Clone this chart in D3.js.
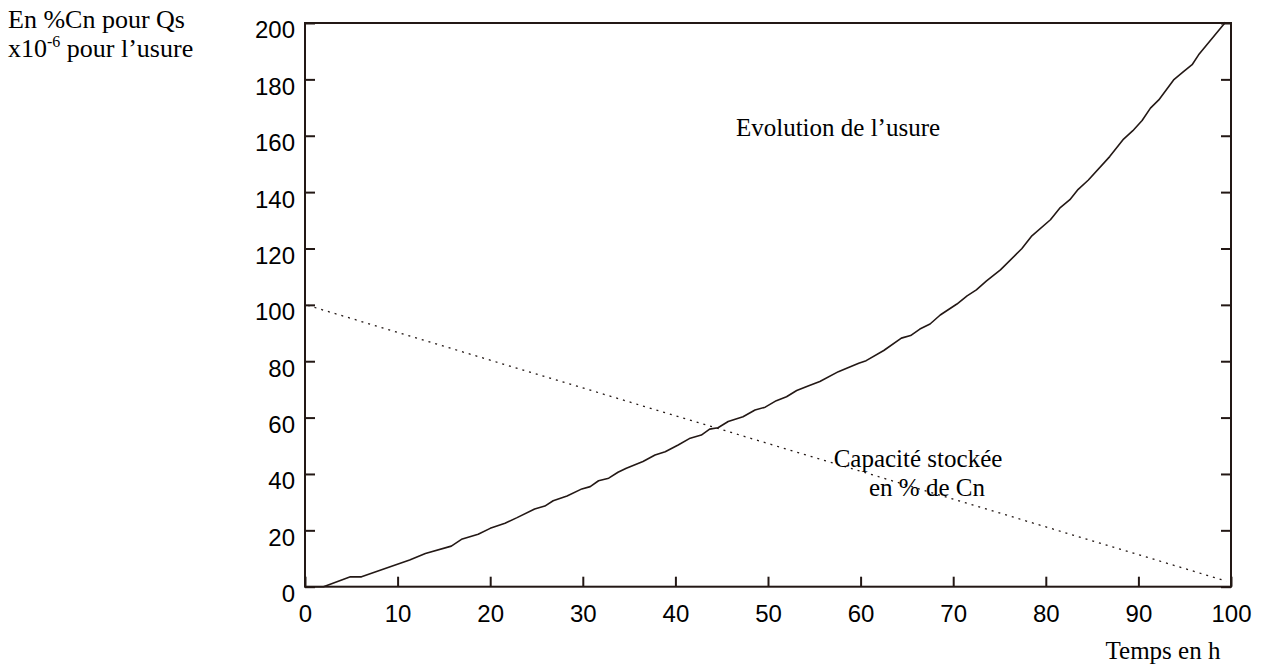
<!DOCTYPE html>
<html><head><meta charset="utf-8">
<script src="https://cdn.jsdelivr.net/npm/d3@7"></script>
<style>
html,body{margin:0;padding:0;background:#fff;}
svg{display:block;}
</style></head>
<body>
<svg id="chart" width="1271" height="666"></svg>
<script>
// ---- Data ----
const usureX = [1,2,4.9,6.1,9.2,11.3,13,15.8,16.9,18.7,20,21.6,22.9,24.8,25.9,26.8,28.3,29.9,30.8,31.7,32.8,33.8,34.7,36.5,37.8,38.9,40.3,41.6,42.8,43.7,44.6,45.7,47.3,48.6,49.7,50.9,52,53.1,54.4,55.6,57.6,58.5,59.8,60.6,62.5,64.4,65.4,66.4,67.5,68.6,70.4,71.5,72.5,73.6,75.1,77.4,78.5,80.5,81.5,82.6,83.5,84.6,86.9,88.4,89.4,90.4,91.3,92.2,93.8,94.9,95.8,96.5,99.4];
const usureY = [0,0,3.5,3.5,7.1,9.5,11.8,14.4,16.8,18.6,20.7,22.5,24.5,27.6,28.6,30.5,32.2,34.7,35.5,37.6,38.5,40.6,42,44.4,46.7,47.9,50.3,52.7,53.8,55.9,56.4,58.6,60.3,62.7,63.7,66,67.4,69.6,71.3,72.8,76.3,77.5,79.3,80.2,83.8,88.2,89.1,91.4,93.2,96.4,100.3,103.2,105.3,108.5,112.4,119.9,124.5,130.2,134.3,137.3,141,144.3,152.6,158.8,161.8,165.4,169.8,172.7,179.8,182.8,185.2,188.7,200.3];
const capX = [0.3, 99.5];
const capY = [99.8, 2];
const xTicks = [0,10,20,30,40,50,60,70,80,90,100];
const yTicks = [0,20,40,60,80,100,120,140,160,180,200];

// ---- Layout ----
const svg = d3.select("#chart");
const L = 305, R = 1231, T = 23, B = 586.7;
const x = d3.scaleLinear().domain([0,100]).range([L,R]);
const y = d3.scaleLinear().domain([0,200]).range([B,T]);
const ink = "#231815";
const sans = "'Liberation Sans', Arial, Helvetica, sans-serif";
const serif = "'Liberation Serif', 'Times New Roman', Times, serif";

// frame
svg.append("rect").attr("x",L).attr("y",T).attr("width",R-L).attr("height",B-T)
  .attr("fill","none").attr("stroke",ink).attr("stroke-width",2);

// bottom axis ticks (inside)
const xAxis = d3.axisBottom(x).tickValues(xTicks).tickSizeInner(-10).tickSizeOuter(0).tickPadding(18);
const gx = svg.append("g").attr("transform",`translate(0,${B})`).call(xAxis);
gx.select(".domain").remove();
gx.selectAll("line").attr("stroke",ink).attr("stroke-width",2);
gx.selectAll("text").attr("font-family",sans).attr("font-size",24).attr("fill","#000");

// left axis ticks (inside)
const yAxis = d3.axisLeft(y).tickValues(yTicks).tickSizeInner(-10).tickSizeOuter(0).tickPadding(10);
const gy = svg.append("g").attr("transform",`translate(${L},0)`).call(yAxis);
gy.select(".domain").remove();
gy.selectAll("line").attr("stroke",ink).attr("stroke-width",2);
gy.selectAll("text").attr("font-family",sans).attr("font-size",24).attr("fill","#000")
  .attr("dy","0.62em");

// right axis ticks (inside)
const yAxisR = d3.axisRight(y).tickValues(yTicks).tickSizeInner(-10).tickSizeOuter(0).tickFormat("");
const gyr = svg.append("g").attr("transform",`translate(${R},0)`).call(yAxisR);
gyr.select(".domain").remove();
gyr.selectAll("line").attr("stroke",ink).attr("stroke-width",2);

// usure curve
const usure = usureX.map((d,i)=>[d,usureY[i]]);
svg.append("path").datum(usure)
  .attr("d", d3.line().x(d=>x(d[0])).y(d=>y(d[1])))
  .attr("fill","none").attr("stroke",ink).attr("stroke-width",1.6).attr("stroke-linejoin","round");

// capacity dotted line
const cap = capX.map((d,i)=>[d,capY[i]]);
svg.append("path").datum(cap)
  .attr("d", d3.line().x(d=>x(d[0])).y(d=>y(d[1])))
  .attr("fill","none").attr("stroke",ink).attr("stroke-width",1.3).attr("stroke-dasharray","2,5");

// texts
svg.append("text").attr("x",8).attr("y",28).attr("font-family",serif).attr("font-size",26).attr("fill","#000")
  .text("En %Cn pour Qs");
const t2 = svg.append("text").attr("x",8).attr("y",57).attr("font-family",serif).attr("font-size",26).attr("fill","#000");
t2.append("tspan").text("x10");
t2.append("tspan").attr("dy",-10).attr("font-size",16).text("-6");
t2.append("tspan").attr("dy",10).text(" pour l\u2019usure");

svg.append("text").attr("x",838).attr("y",136).attr("text-anchor","middle").attr("font-family",serif).attr("font-size",25).attr("fill","#000")
  .text("Evolution de l\u2019usure");
svg.append("text").attr("x",918).attr("y",467).attr("text-anchor","middle").attr("font-family",serif).attr("font-size",25).attr("fill","#000")
  .text("Capacité stockée");
svg.append("text").attr("x",927).attr("y",496).attr("text-anchor","middle").attr("font-family",serif).attr("font-size",25).attr("fill","#000")
  .text("en % de Cn");
svg.append("text").attr("x",1163).attr("y",659).attr("text-anchor","middle").attr("font-family",serif).attr("font-size",25).attr("fill","#000")
  .text("Temps en h");
</script>
</body></html>
